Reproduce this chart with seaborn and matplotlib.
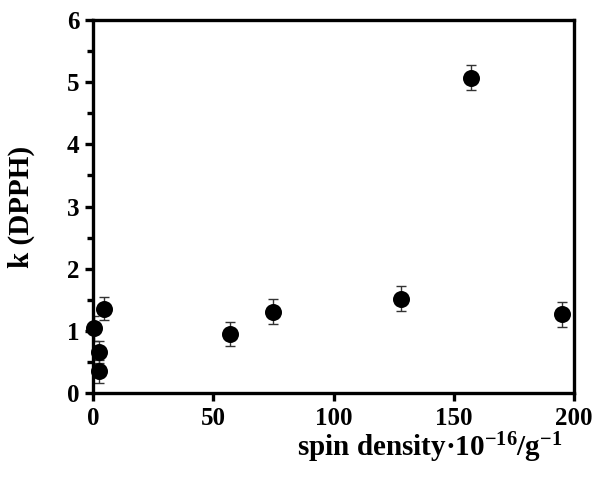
import matplotlib
matplotlib.use("Agg")
import matplotlib.pyplot as plt
import seaborn as sns
import pandas as pd
from matplotlib.ticker import MultipleLocator

spin_density = [0.5, 2.5, 2.5, 4.5, 57, 75, 128, 157, 195]
k_dpph = [1.04, 0.35, 0.66, 1.36, 0.95, 1.31, 1.52, 5.07, 1.27]
k_err = [0.20, 0.18, 0.18, 0.19, 0.19, 0.20, 0.20, 0.20, 0.20]
x_ticks = [0, 50, 100, 150, 200]
y_ticks = [0, 1, 2, 3, 4, 5, 6]

df = pd.DataFrame({"spin": spin_density, "k": k_dpph, "err": k_err})

sns.set_style("ticks")
plt.rcParams["font.family"] = ["Liberation Serif", "DejaVu Serif"]
plt.rcParams["font.weight"] = "bold"
plt.rcParams["text.color"] = "black"
plt.rcParams["axes.labelcolor"] = "black"
plt.rcParams["xtick.color"] = "black"
plt.rcParams["ytick.color"] = "black"
plt.rcParams["mathtext.fontset"] = "custom"
plt.rcParams["mathtext.rm"] = "Liberation Serif:bold"
plt.rcParams["mathtext.it"] = "Liberation Serif:bold"
plt.rcParams["mathtext.bf"] = "Liberation Serif:bold"
plt.rcParams["mathtext.default"] = "rm"

fig = plt.figure(figsize=(6.01, 4.86), dpi=100)
ax = fig.add_axes([0.155, 0.191, 0.800, 0.768])

ax.errorbar(df["spin"], df["k"], yerr=df["err"], fmt="none", ecolor="#333333",
            elinewidth=1.0, capsize=3.3, capthick=1.0, zorder=2)
sns.scatterplot(data=df, x="spin", y="k", ax=ax, color="black", s=150,
                edgecolor="black", linewidth=0, zorder=3, clip_on=False)

ax.set_xlim(0, 200)
ax.set_ylim(0, 6)
ax.set_xticks(x_ticks)
ax.set_yticks(y_ticks)
ax.yaxis.set_minor_locator(MultipleLocator(0.5))

for s in ax.spines.values():
    s.set_linewidth(2.4)
    s.set_color("black")
    s.set_zorder(4)

ax.tick_params(axis="both", which="major", direction="out", length=6, width=2.4,
               labelsize=18, pad=4, colors="black")
ax.tick_params(axis="y", which="minor", direction="out", length=4, width=2.4,
               colors="black")
for lab in ax.get_xticklabels() + ax.get_yticklabels():
    lab.set_fontweight("bold")

ax.set_xlabel("spin density·10$^{-16}$/g$^{-1}$", fontsize=21, fontweight="bold",
              color="black")
ax.set_ylabel("k (DPPH)", fontsize=21, fontweight="bold", color="black")
ax.xaxis.set_label_coords(0.70, -0.10)
ax.yaxis.set_label_coords(-0.12, 0.50)

fig.savefig("out.png", dpi=100)
